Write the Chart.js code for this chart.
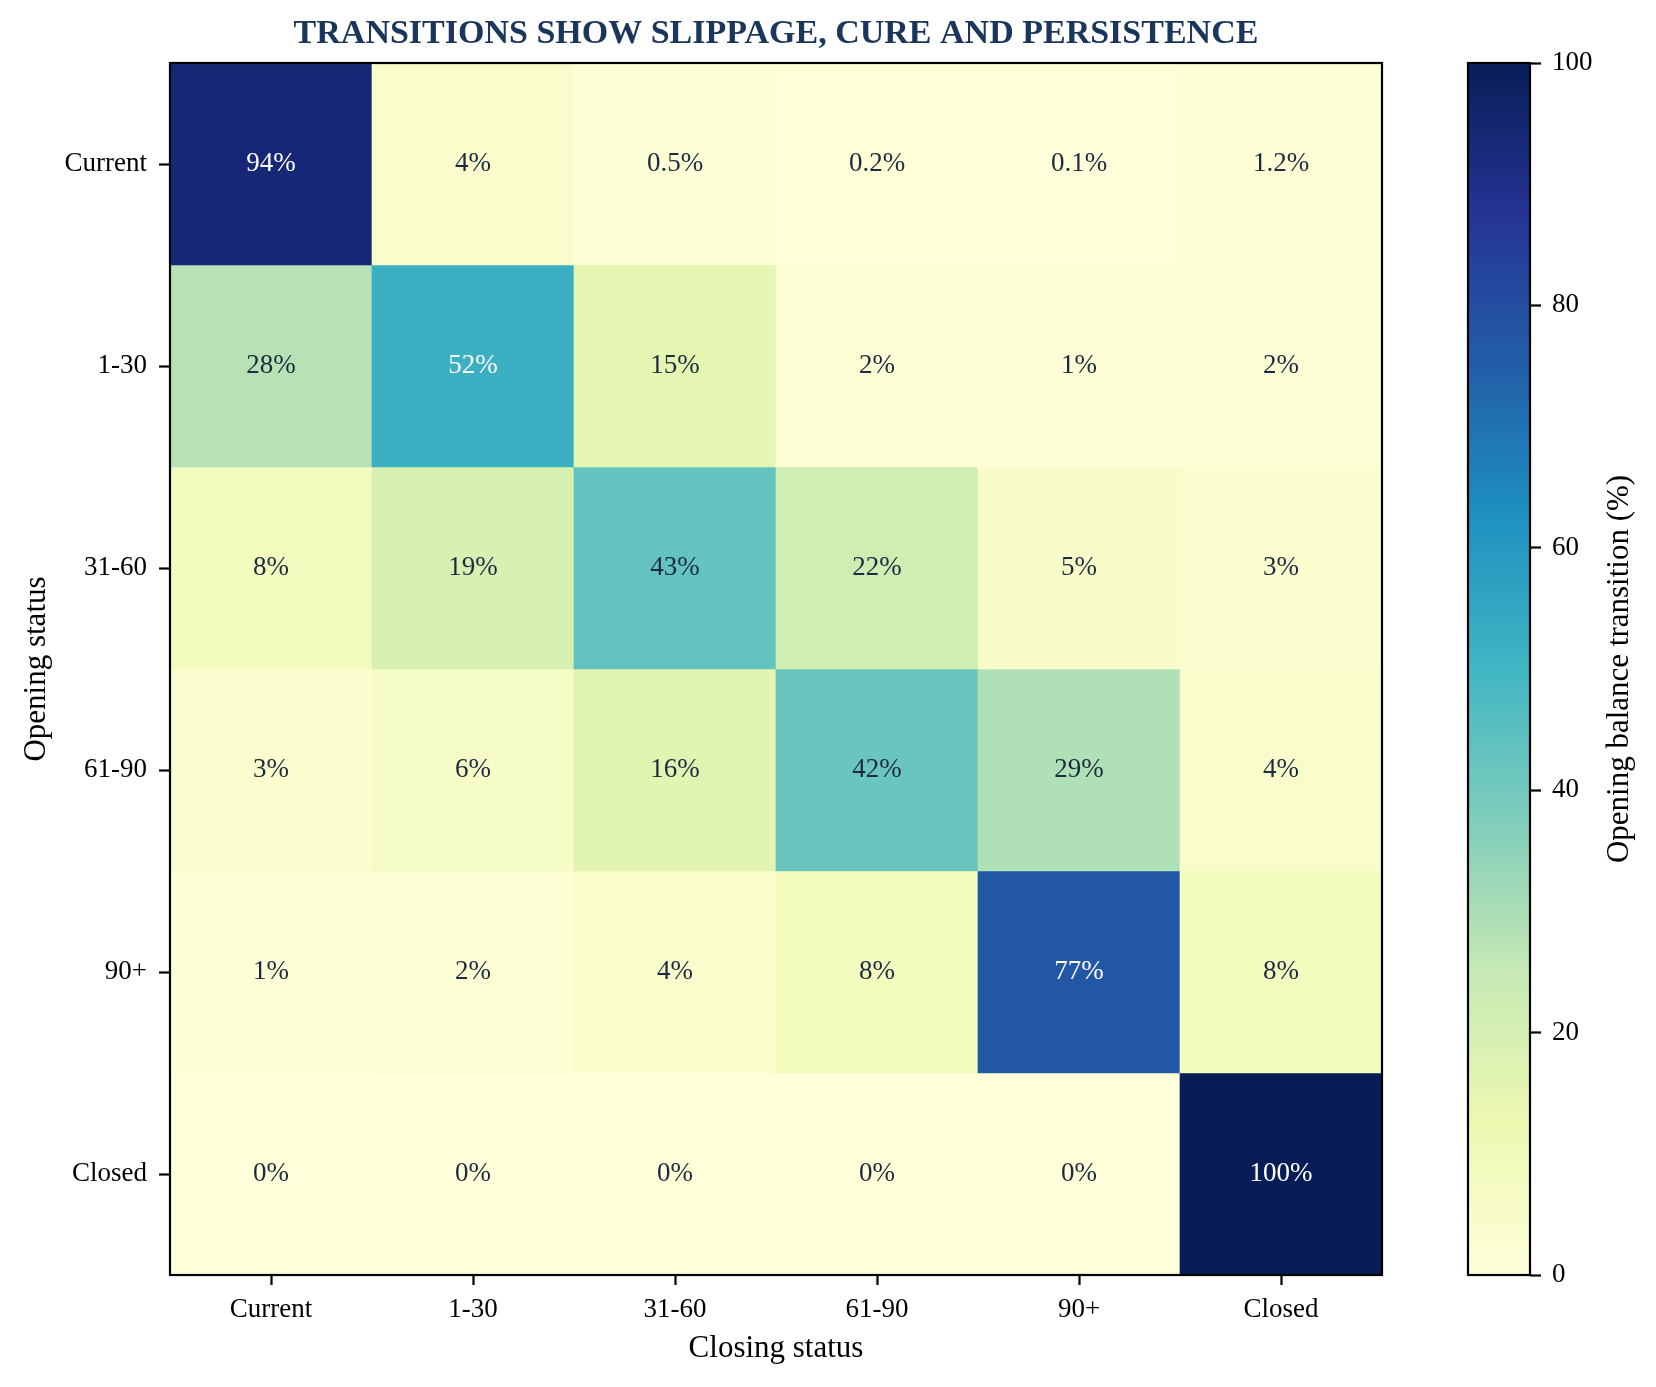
<!DOCTYPE html>
<html>
<head>
<meta charset="utf-8">
<script src="https://cdn.jsdelivr.net/npm/chart.js@4.4.1/dist/chart.umd.min.js"></script>
<style>
html,body{margin:0;padding:0;background:#ffffff;}
#wrap{position:relative;width:1656px;height:1387px;overflow:hidden;}
#main{position:absolute;left:0;top:0;width:1656px;height:1387px;}
#cbar{position:absolute;left:1400px;top:0;width:256px;height:1387px;}
</style>
</head>
<body>
<div id="wrap">
  <div id="main"><canvas id="heat"></canvas></div>
  <div id="cbar"><canvas id="bar"></canvas></div>
</div>
<script>
// ---------------- data ----------------
const closingStatus = ['Current', '1-30', '31-60', '61-90', '90+', 'Closed'];
const openingStatus = ['Current', '1-30', '31-60', '61-90', '90+', 'Closed'];
const rowCurrent = [94, 4, 0.5, 0.2, 0.1, 1.2];
const row1to30   = [28, 52, 15, 2, 1, 2];
const row31to60  = [8, 19, 43, 22, 5, 3];
const row61to90  = [3, 6, 16, 42, 29, 4];
const row90plus  = [1, 2, 4, 8, 77, 8];
const rowClosed  = [0, 0, 0, 0, 0, 100];
const colorbarTicks = [0, 20, 40, 60, 80, 100];
const titleText = 'TRANSITIONS SHOW SLIPPAGE, CURE AND PERSISTENCE';
const xTitle = 'Closing status';
const yTitle = 'Opening status';
const cbarTitle = 'Opening balance transition (%)';

// ---------------- styling ----------------
const FONT = "'Liberation Serif','Times New Roman',Times,serif";
const YLGNBU = ['#ffffd9', '#edf8b1', '#c7e9b4', '#7fcdbb', '#41b6c4', '#1d91c0', '#225ea8', '#253494', '#081d58'];
const VMIN = 0, VMAX = 100;

function hexToRgb(h) {
  return [parseInt(h.slice(1, 3), 16), parseInt(h.slice(3, 5), 16), parseInt(h.slice(5, 7), 16)];
}
function cmap(v) {
  let t = (v - VMIN) / (VMAX - VMIN);
  t = Math.max(0, Math.min(1, t));
  const pos = t * (YLGNBU.length - 1);
  const i = Math.min(Math.floor(pos), YLGNBU.length - 2);
  const f = pos - i;
  const a = hexToRgb(YLGNBU[i]), b = hexToRgb(YLGNBU[i + 1]);
  const c = a.map((x, k) => Math.round(x + (b[k] - x) * f));
  return 'rgb(' + c.join(',') + ')';
}
function fmt(v) {
  return (Number.isInteger(v) ? String(v) : v.toFixed(1)) + '%';
}

const matrix = [rowCurrent, row1to30, row31to60, row61to90, row90plus, rowClosed];

const datasets = matrix.map((vals, r) => ({
  label: openingStatus[r],
  data: vals.map(() => [r, r + 1]),
  values: vals,
  backgroundColor: vals.map(v => cmap(v)),
  borderWidth: 0,
  grouped: false,
  barPercentage: 1,
  categoryPercentage: 1
}));

const framePlugin = {
  id: 'frame',
  afterDraw(chart) {
    const ca = chart.chartArea, ctx = chart.ctx;
    ctx.save();
    ctx.strokeStyle = '#000';
    ctx.lineWidth = 2.2;
    ctx.strokeRect(ca.left, ca.top, ca.right - ca.left, ca.bottom - ca.top);
    ctx.restore();
  }
};

const annotatePlugin = {
  id: 'annotate',
  afterDatasetsDraw(chart) {
    const ctx = chart.ctx;
    ctx.save();
    ctx.font = '27px ' + FONT;
    ctx.textAlign = 'center';
    ctx.textBaseline = 'middle';
    chart.data.datasets.forEach((ds, i) => {
      const meta = chart.getDatasetMeta(i);
      meta.data.forEach((el, j) => {
        const v = ds.values[j];
        const p = el.getProps(['x', 'y', 'base'], true);
        ctx.fillStyle = v > 50 ? '#ffffff' : '#1c2b40';
        ctx.fillText(fmt(v), p.x, (p.y + p.base) / 2);
      });
    });
    ctx.restore();
  }
};

new Chart(document.getElementById('heat'), {
  type: 'bar',
  data: { labels: closingStatus, datasets: datasets },
  plugins: [annotatePlugin, framePlugin],
  options: {
    responsive: true,
    maintainAspectRatio: false,
    animation: false,
    events: [],
    layout: { padding: 0 },
    plugins: {
      legend: { display: false },
      tooltip: { enabled: false },
      title: {
        display: true,
        text: titleText,
        fullSize: false,
        color: '#1b365d',
        font: { family: FONT, size: 34, weight: 'bold', lineHeight: '40px' },
        padding: { top: 14, bottom: 9 }
      }
    },
    scales: {
      x: {
        type: 'category',
        offset: true,
        grid: { offset: false, drawOnChartArea: false, tickLength: 10, tickWidth: 2.2, tickColor: '#000' },
        border: { display: false },
        ticks: { color: '#000', font: { family: FONT, size: 27 }, padding: 9, maxRotation: 0, autoSkip: false },
        title: { display: true, text: xTitle, color: '#000', font: { family: FONT, size: 31 }, padding: { top: 20, bottom: 20 } },
        afterFit(s) { s.height = 112; }
      },
      y: {
        type: 'linear',
        min: 0,
        max: openingStatus.length,
        reverse: true,
        afterBuildTicks(s) { s.ticks = openingStatus.map((_, i) => ({ value: i + 0.5 })); },
        grid: { drawOnChartArea: false, tickLength: 11, tickWidth: 2.2, tickColor: '#000' },
        border: { display: false },
        ticks: {
          color: '#000', font: { family: FONT, size: 27 }, padding: 12, autoSkip: false,
          callback: (v) => openingStatus[Math.floor(v)]
        },
        title: { display: true, text: yTitle, color: '#000', font: { family: FONT, size: 31 }, padding: { top: 18, bottom: 18 } },
        afterFit(s) { s.width = 170; }
      },
      yR: {
        type: 'linear',
        position: 'right',
        display: true,
        grid: { display: false },
        border: { display: false },
        ticks: { display: false },
        afterFit(s) { s.width = 274; }
      }
    }
  }
});

// ---------------- colorbar ----------------
const cbarLabelPlugin = {
  id: 'cbarLabel',
  afterDraw(chart) {
    const s = chart.scales.y, ctx = chart.ctx;
    ctx.save();
    ctx.translate(s.right - 36, (s.top + s.bottom) / 2);
    ctx.rotate(-Math.PI / 2);
    ctx.font = '31px ' + FONT;
    ctx.fillStyle = '#000';
    ctx.textAlign = 'center';
    ctx.textBaseline = 'middle';
    ctx.fillText(cbarTitle, 0, 0);
    ctx.restore();
  }
};

new Chart(document.getElementById('bar'), {
  type: 'bar',
  data: {
    labels: [''],
    datasets: [{
      data: [[VMIN, VMAX]],
      borderWidth: 0,
      barPercentage: 1,
      categoryPercentage: 1,
      backgroundColor: (c) => {
        const ch = c.chart, ys = ch.scales.y;
        if (!ys || !ch.chartArea) return YLGNBU[4];
        const g = ch.ctx.createLinearGradient(0, ys.getPixelForValue(VMIN), 0, ys.getPixelForValue(VMAX));
        YLGNBU.forEach((col, i) => g.addColorStop(i / (YLGNBU.length - 1), col));
        return g;
      }
    }]
  },
  plugins: [framePlugin, cbarLabelPlugin],
  options: {
    responsive: true,
    maintainAspectRatio: false,
    animation: false,
    events: [],
    layout: { padding: { left: 68, top: 63, bottom: 112, right: 0 } },
    plugins: { legend: { display: false }, tooltip: { enabled: false }, title: { display: false } },
    scales: {
      x: { display: false },
      y: {
        position: 'right',
        min: VMIN,
        max: VMAX,
        afterBuildTicks(s) { s.ticks = colorbarTicks.map(v => ({ value: v })); },
        grid: { drawOnChartArea: false, tickLength: 11, tickWidth: 2.2, tickColor: '#000' },
        border: { display: false },
        ticks: { color: '#000', font: { family: FONT, size: 27 }, padding: 11, autoSkip: false },
        afterFit(s) { s.width = 126; }
      }
    }
  }
});
</script>
</body>
</html>
